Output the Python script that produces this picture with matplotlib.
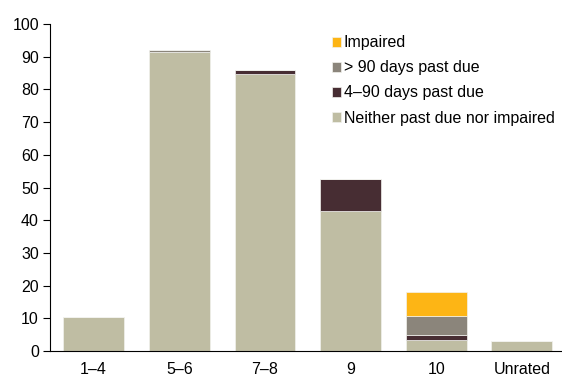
import numpy as np
import matplotlib.pyplot as plt

plt.rcParams['font.family'] = ['Liberation Sans', 'DejaVu Sans']

# Categorie di rating e valori per stato di scaduto
ratings = ['1–4', '5–6', '7–8', '9', '10', 'Unrated']
neither = [10.5, 91.6, 84.7, 43.0, 3.3, 3.2]
days_4_90 = [0.0, 0.0, 1.3, 9.5, 1.6, 0.0]
days_90 = [0.0, 0.4, 0.0, 0.0, 6.0, 0.0]
impaired = [0.0, 0.0, 0.0, 0.0, 7.1, 0.0]

series = [
    ('Neither past due nor impaired', neither, '#bfbda3'),
    ('4–90 days past due', days_4_90, '#472d33'),
    ('> 90 days past due', days_90, '#8b857b'),
    ('Impaired', impaired, '#fdb515'),
]

fig = plt.figure(figsize=(5.62, 3.76), dpi=100)
ax = fig.add_axes([0.089, 0.066, 0.911, 0.870])

x = np.arange(len(ratings))
bottom = np.zeros(len(ratings))
for label, vals, color in series:
    vals = np.array(vals)
    ax.bar(x, vals, bottom=bottom, width=0.71, color=color, label=label,
           edgecolor='#f2f2ee', linewidth=0.5)
    bottom += vals

ax.set_xlim(-0.51, 5.47)
ax.set_ylim(0, 100)
ax.set_yticks(range(0, 101, 10))
ax.set_xticks(x)
ax.set_xticklabels(ratings)
ax.tick_params(axis='x', length=0, pad=8, labelsize=11.5)
ax.tick_params(axis='y', length=5, width=0.8, labelsize=11.5, pad=3)
ax.spines['top'].set_visible(False)
ax.spines['right'].set_visible(False)
ax.spines['left'].set_linewidth(0.8)
ax.spines['bottom'].set_linewidth(0.8)

handles, labels = ax.get_legend_handles_labels()
ax.legend(handles[::-1], labels[::-1], loc='upper left', bbox_to_anchor=(0.538, 0.985),
          frameon=False, fontsize=11.5, handlelength=0.55, handleheight=0.55,
          handletextpad=0.2, labelspacing=0.63, borderaxespad=0)

fig.savefig('out.png', dpi=100)
